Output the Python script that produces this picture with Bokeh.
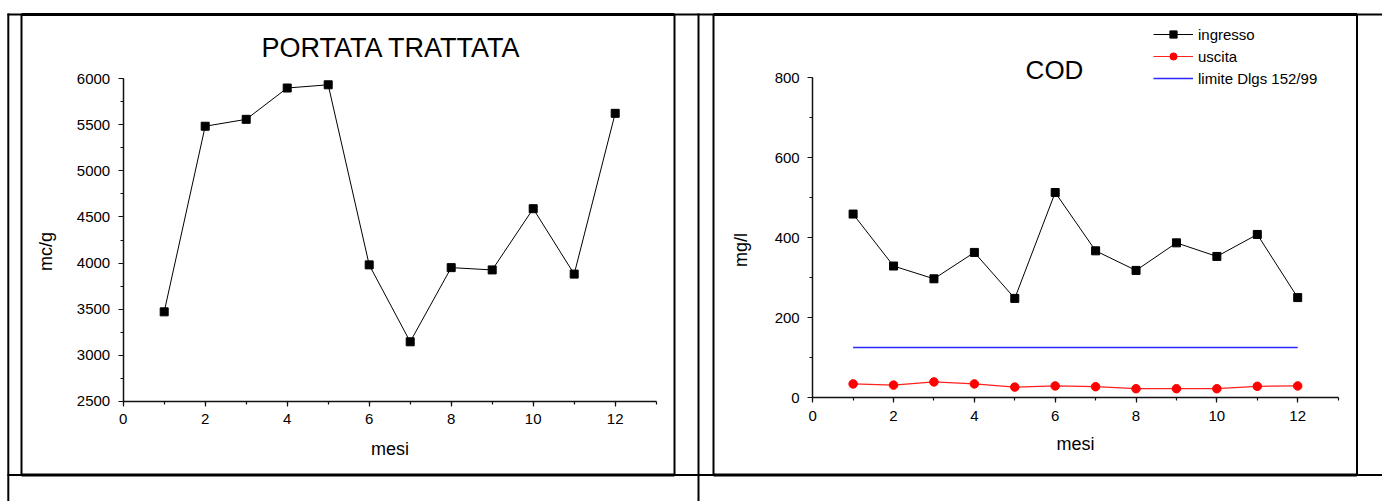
import math
from bokeh.plotting import figure
from bokeh.models import (Range1d, LinearAxis, SingleIntervalTicker, Label,
                          Legend, LegendItem)
from bokeh.embed import file_html
from bokeh.resources import INLINE

# ---------------- data ----------------
mesi = [1, 2, 3, 4, 5, 6, 7, 8, 9, 10, 11, 12]
portata_trattata = [3470, 5485, 5560, 5900, 5935, 3980, 3145, 3950, 3925, 4590, 3880, 5625]
cod_ingresso = [459, 329, 297, 363, 248, 513, 367, 318, 387, 353, 408, 250]
cod_uscita = [34, 31, 39, 34, 26, 29, 27, 22, 22, 22, 28, 29]
limite_mesi = [1, 12]
limite_cod = [125, 125]

# ---------------- layout (page pixels) ----------------
W, H = 1382, 501
FONT = "Liberation Sans"


def rng(v0, px0, v1, px1, lo, hi):
    k = (px1 - px0) / (v1 - v0)
    return Range1d(start=v0 + (lo - px0) / k, end=v0 + (hi - px0) / k)


p = figure(width=W, height=H, output_backend="svg", toolbar_location=None,
           x_range=Range1d(0, W), y_range=Range1d(H, 0),
           x_axis_type=None, y_axis_type=None, title=None,
           min_border=0, min_border_left=0, min_border_right=0,
           min_border_top=0, min_border_bottom=0,
           outline_line_color=None, background_fill_color="white",
           border_fill_color="white")

# chart scales mapped onto page pixels
p.extra_x_ranges = {
    "xl": rng(0, 122.7, 13, 655.7, 0, W),
    "xr": rng(0, 812.2, 12, 1297.2, 0, W),
}
p.extra_y_ranges = {
    "yl": rng(6000, 78.3, 2500, 400.7, H, 0),
    "yr": rng(800, 77.3, 0, 397.0, H, 0),
}

# ---------------- table & boxes ----------------
p.segment([7, 7, 7.8, 698], [14, 474.5, 13, 13], [W, W, 7.8, 698], [14, 474.5, H, H],
          line_color="black", line_width=2)
for (bx0, bx1) in [(21, 674), (713, 1356.5)]:
    p.segment([bx0, bx0], [14, 474.5], [bx1, bx1], [14, 474.5], line_color="black", line_width=3)
    p.segment([bx0, bx1], [14, 14], [bx0, bx1], [474.5, 474.5], line_color="black", line_width=2)


def style_axis(ax):
    ax.axis_line_color = "#111"
    ax.axis_line_width = 1.5
    ax.major_tick_line_color = "#111"
    ax.minor_tick_line_color = "#111"
    ax.major_tick_line_width = 1.2
    ax.minor_tick_line_width = 1.2
    ax.major_tick_out = 5
    ax.major_tick_in = 0
    ax.minor_tick_out = 3
    ax.minor_tick_in = 0
    ax.major_label_text_font = FONT
    ax.major_label_text_font_size = "15px"
    ax.major_label_text_color = "black"
    ax.major_label_standoff = 8


# ---------------- left chart: PORTATA TRATTATA ----------------
axl_x = LinearAxis(x_range_name="xl", y_range_name="yl", fixed_location=2500,
                   bounds=(0, 13), ticker=SingleIntervalTicker(interval=2, num_minor_ticks=2))
axl_y = LinearAxis(x_range_name="xl", y_range_name="yl", fixed_location=0,
                   bounds=(2500, 6000), ticker=SingleIntervalTicker(interval=500, num_minor_ticks=2))
for ax in (axl_x, axl_y):
    style_axis(ax)
p.add_layout(axl_x, "below")
p.add_layout(axl_y, "left")

p.line(mesi, portata_trattata, x_range_name="xl", y_range_name="yl",
       line_color="black", line_width=1)
p.scatter(mesi, portata_trattata, x_range_name="xl", y_range_name="yl",
          marker="square", size=8, fill_color="black", line_color="black")

# ---------------- right chart: COD ----------------
axr_x = LinearAxis(x_range_name="xr", y_range_name="yr", fixed_location=0,
                   bounds=(0, 13), ticker=SingleIntervalTicker(interval=2, num_minor_ticks=2))
axr_y = LinearAxis(x_range_name="xr", y_range_name="yr", fixed_location=0,
                   bounds=(0, 800), ticker=SingleIntervalTicker(interval=200, num_minor_ticks=2))
for ax in (axr_x, axr_y):
    style_axis(ax)
p.add_layout(axr_x, "below")
p.add_layout(axr_y, "left")

r_in_l = p.line(mesi, cod_ingresso, x_range_name="xr", y_range_name="yr",
                line_color="black", line_width=1)
r_in_s = p.scatter(mesi, cod_ingresso, x_range_name="xr", y_range_name="yr",
                   marker="square", size=8, fill_color="black", line_color="black")
r_out_l = p.line(mesi, cod_uscita, x_range_name="xr", y_range_name="yr",
                 line_color="#ff2020", line_width=1.2)
r_out_s = p.scatter(mesi, cod_uscita, x_range_name="xr", y_range_name="yr",
                    marker="circle", size=8.5, fill_color="red", line_color="red")
r_lim = p.line(limite_mesi, limite_cod, x_range_name="xr", y_range_name="yr",
               line_color="#2828ff", line_width=1.5)

legend = Legend(items=[
    LegendItem(label="ingresso", renderers=[r_in_l, r_in_s]),
    LegendItem(label="uscita", renderers=[r_out_l, r_out_s]),
    LegendItem(label="limite Dlgs 152/99", renderers=[r_lim]),
], location=(1153, H - 87), glyph_width=40, glyph_height=18,
    label_height=18, spacing=4, padding=0, margin=0, label_standoff=5,
    border_line_color=None, background_fill_alpha=0,
    label_text_font=FONT, label_text_font_size="15px", label_text_color="black")
p.add_layout(legend)

# ---------------- texts (anchored at text middle) ----------------
texts = [
    dict(x=391, y=47.5, text="PORTATA TRATTATA", text_font_size="27px"),
    dict(x=1054, y=69, text="COD", text_font_size="26px"),
    dict(x=389.5, y=448, text="mesi", text_font_size="18px"),
    dict(x=1075, y=443, text="mesi", text_font_size="18px"),
    dict(x=45, y=251, text="mc/g", text_font_size="18px", angle=math.pi / 2),
    dict(x=740, y=249.5, text="mg/l", text_font_size="18px", angle=math.pi / 2),
]
for t in texts:
    p.add_layout(Label(text_align="center", text_baseline="alphabetic",
                       text_font=FONT, text_color="black", **t))

open("out.html", "w").write(file_html(p, INLINE))
